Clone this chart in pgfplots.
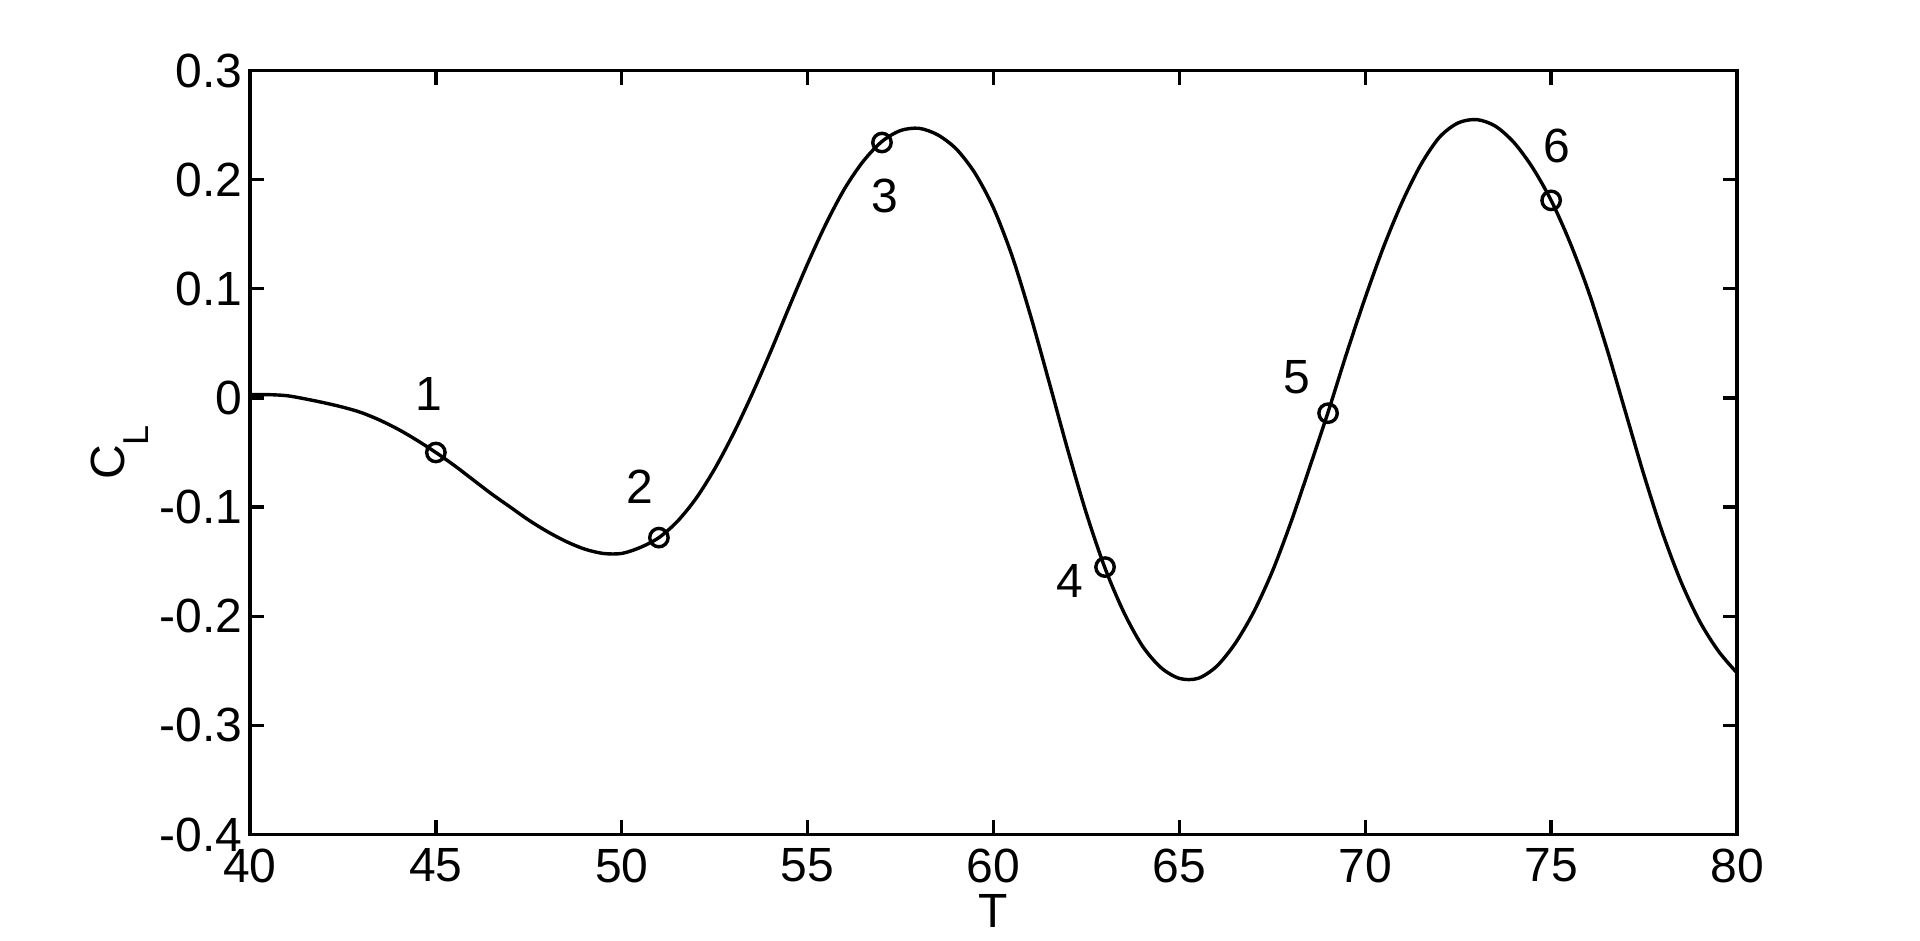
\documentclass[border=0pt]{standalone}
\usepackage{pgfplots}
\pgfplotsset{compat=1.18}
\usepackage{fontspec}
\setmainfont{Liberation Sans}
\begin{document}
\fontsize{24}{28}\selectfont
\begin{tikzpicture}
\begin{axis}[
  scale only axis, width=743.5pt, height=382pt,
  xmin=40, xmax=80, ymin=-0.4, ymax=0.3,
  xtick={40,45,50,55,60,65,70,75,80},
  xticklabels={40,45,50,55,60,65,70,75,80},
  ytick={-0.4,-0.3,-0.2,-0.1,0,0.1,0.2,0.3},
  yticklabels={-0.4,-0.3,-0.2,-0.1,0,0.1,0.2,0.3},
  tick label style={font=\fontsize{24}{28}\selectfont},
  xticklabel style={anchor=north, inner sep=0pt, yshift=-7pt},
  yticklabel style={anchor=east, inner sep=0pt, xshift=-3.5pt},
  major tick length=7.25pt,
  tick align=inside,
  axis line style={line width=1.65pt},
  every tick/.style={line width=1.65pt, black},
  xlabel={T},
  ylabel={C\raisebox{-12pt}{\fontsize{18}{18}\selectfont L}},
  xlabel style={at={(axis description cs:0.5,-0.0995)}, anchor=center, inner sep=0pt, font=\fontsize{24}{28}\selectfont},
  ylabel style={at={(axis description cs:-0.0874,0.5)}, anchor=center, inner sep=0pt, font=\fontsize{24}{28}\selectfont},
]
\addplot[black, line width=1.7pt, smooth, tension=0.5] coordinates {
(40,0.003) (40.5,0.003) (41,0.002) (41.5,-0.001) (42,-0.0045) (42.5,-0.0085)
(43,-0.0135) (43.5,-0.0205) (44,-0.029) (44.5,-0.039) (45,-0.050) (45.5,-0.062)
(46,-0.075) (46.5,-0.088) (47,-0.100) (47.5,-0.112) (48,-0.1225) (48.5,-0.1315)
(49,-0.1385) (49.5,-0.1425) (50,-0.1425) (50.5,-0.137) (51,-0.128) (51.5,-0.113)
(52,-0.092) (52.5,-0.065) (53,-0.033) (53.5,0.003) (54,0.042) (54.5,0.083)
(55,0.123) (55.5,0.160) (56,0.192) (56.5,0.217) (57,0.235) (57.5,0.245)
(58,0.247) (58.5,0.241) (59,0.228) (59.5,0.206) (60,0.174) (60.5,0.130)
(61,0.075) (61.5,0.014) (62,-0.048) (62.5,-0.106) (63,-0.156) (63.5,-0.196)
(64,-0.227) (64.5,-0.247) (65,-0.257) (65.5,-0.257) (66,-0.246) (66.5,-0.225)
(67,-0.196) (67.5,-0.159) (68,-0.114) (68.5,-0.064) (69,-0.013) (69.5,0.041)
(70,0.092) (70.5,0.139) (71,0.180) (71.5,0.214) (72,0.239) (72.5,0.252)
(73,0.255) (73.5,0.249) (74,0.234) (74.5,0.211) (75,0.181) (75.5,0.143)
(76,0.098) (76.5,0.045) (77,-0.013) (77.5,-0.071) (78,-0.124) (78.5,-0.169)
(79,-0.205) (79.5,-0.232) (80,-0.252)
};
\addplot[black, only marks, mark=o, mark size=4.6pt, mark options={line width=1.7pt}] coordinates {
(45,-0.050) (51,-0.128) (57,0.234) (63,-0.155) (69,-0.014) (75,0.181)
};
\node at (axis cs:44.8,0.004) {1};
\node at (axis cs:50.5,-0.081) {2};
\node at (axis cs:57.08,0.185) {3};
\node at (axis cs:62.06,-0.168) {4};
\node at (axis cs:68.16,0.019) {5};
\node at (axis cs:75.16,0.231) {6};
\coordinate (O) at (rel axis cs:0,0);
\coordinate (E) at (rel axis cs:1,1);
\end{axis}
\path ([shift={(-125pt,-53pt)}]O) rectangle ([shift={(91.5pt,35.25pt)}]E);
\end{tikzpicture}
\end{document}
